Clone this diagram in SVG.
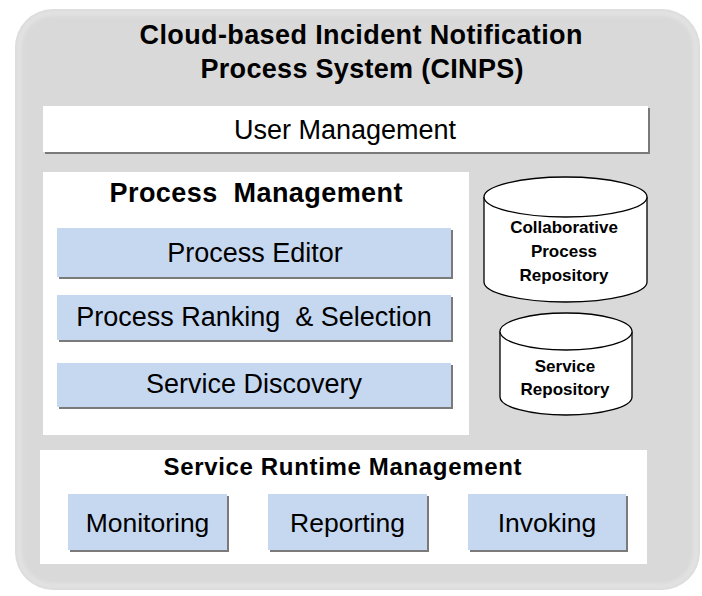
<svg xmlns="http://www.w3.org/2000/svg" width="702" height="596" viewBox="0 0 702 596">
<defs>
<style>
.bold{font-family:"Liberation Sans",Arial,sans-serif;font-weight:bold;fill:#000}
.reg{font-family:"Liberation Sans",Arial,sans-serif;fill:#000}
.db{font-family:"Liberation Sans",Arial,sans-serif;font-weight:bold;font-size:17px;fill:#000}
.panel{fill:#ffffff}
.blue{fill:#c6d8f0}
.shadow{fill:#7a7a7a}
.cyl{fill:#ffffff;stroke:#000;stroke-width:1.3}
</style>
<filter id="soft" x="-5%" y="-5%" width="110%" height="110%">
<feGaussianBlur stdDeviation="2"/>
</filter>
</defs>
<rect width="702" height="596" fill="#ffffff"/>
<g id="cinps">
<rect x="15" y="9" width="685" height="581" rx="38" ry="38" fill="#d9d9d9"/>
<rect x="19" y="13" width="677" height="573" rx="34" ry="34" fill="none" stroke="#ffffff" stroke-opacity="0.45" stroke-width="3" filter="url(#soft)"/>
<text class="bold" font-size="27" x="361" y="44" text-anchor="middle" textLength="443" lengthAdjust="spacing">Cloud-based Incident Notification</text>
<text class="bold" font-size="27" x="362" y="78" text-anchor="middle" textLength="323" lengthAdjust="spacing">Process System (CINPS)</text>
</g>
<g id="user-management">
<rect class="shadow" x="45" y="108" width="605" height="46"/>
<rect class="panel" x="43" y="106" width="605" height="46"/>
<text class="reg" font-size="27" x="345" y="139" text-anchor="middle">User Management</text>
</g>
<g id="process-management">
<rect class="panel" x="43" y="172" width="426" height="263"/>
<text class="bold" font-size="27" x="256" y="202" text-anchor="middle" xml:space="preserve" textLength="293" lengthAdjust="spacing">Process  Management</text>
</g>
<g id="process-editor">
<rect class="shadow" x="59" y="230" width="394" height="49"/>
<rect class="blue" x="57" y="228" width="394" height="49"/>
<text class="reg" font-size="27" x="255" y="262" text-anchor="middle">Process Editor</text>
</g>
<g id="process-ranking">
<rect class="shadow" x="59" y="297" width="394" height="45"/>
<rect class="blue" x="57" y="295" width="394" height="45"/>
<text class="reg" font-size="27" x="254" y="326" text-anchor="middle" xml:space="preserve">Process Ranking  &amp; Selection</text>
</g>
<g id="service-discovery">
<rect class="shadow" x="59" y="365" width="394" height="44"/>
<rect class="blue" x="57" y="363" width="394" height="44"/>
<text class="reg" font-size="27" x="254" y="393" text-anchor="middle">Service Discovery</text>
</g>
<g id="collaborative-process-repository">
<path class="cyl" d="M484,197 L484,282 A81.5,20 0 0 0 647,282 L647,197 A81.5,20 0 0 0 484,197 Z"/>
<path class="cyl" fill="none" d="M484,197 A81.5,20 0 0 0 647,197"/>
<text class="db" x="564" y="233" text-anchor="middle">Collaborative</text>
<text class="db" x="564" y="257" text-anchor="middle">Process</text>
<text class="db" x="564" y="281" text-anchor="middle">Repository</text>
</g>
<g id="service-repository">
<path class="cyl" d="M500,331.5 L500,397 A66,18 0 0 0 632,397 L632,331.5 A66,18.5 0 0 0 500,331.5 Z"/>
<path class="cyl" fill="none" d="M500,331.5 A66,18.5 0 0 0 632,331.5"/>
<text class="db" x="565" y="372" text-anchor="middle">Service</text>
<text class="db" x="565" y="395" text-anchor="middle">Repository</text>
</g>
<g id="service-runtime-management">
<rect class="panel" x="40" y="450" width="607" height="114"/>
<text class="bold" font-size="24" x="342.5" y="475" text-anchor="middle" textLength="358" lengthAdjust="spacing">Service Runtime Management</text>
</g>
<g id="monitoring">
<rect class="shadow" x="70" y="496" width="159" height="56"/>
<rect class="blue" x="68" y="494" width="159" height="56"/>
<text class="reg" font-size="26.5" x="147.5" y="532" text-anchor="middle">Monitoring</text>
</g>
<g id="reporting">
<rect class="shadow" x="270" y="496" width="159" height="56"/>
<rect class="blue" x="268" y="494" width="159" height="56"/>
<text class="reg" font-size="26.5" x="347.5" y="532" text-anchor="middle">Reporting</text>
</g>
<g id="invoking">
<rect class="shadow" x="470" y="496" width="158" height="56"/>
<rect class="blue" x="468" y="494" width="158" height="56"/>
<text class="reg" font-size="26.5" x="547" y="532" text-anchor="middle">Invoking</text>
</g>
<g id="connectors"></g>
</svg>
